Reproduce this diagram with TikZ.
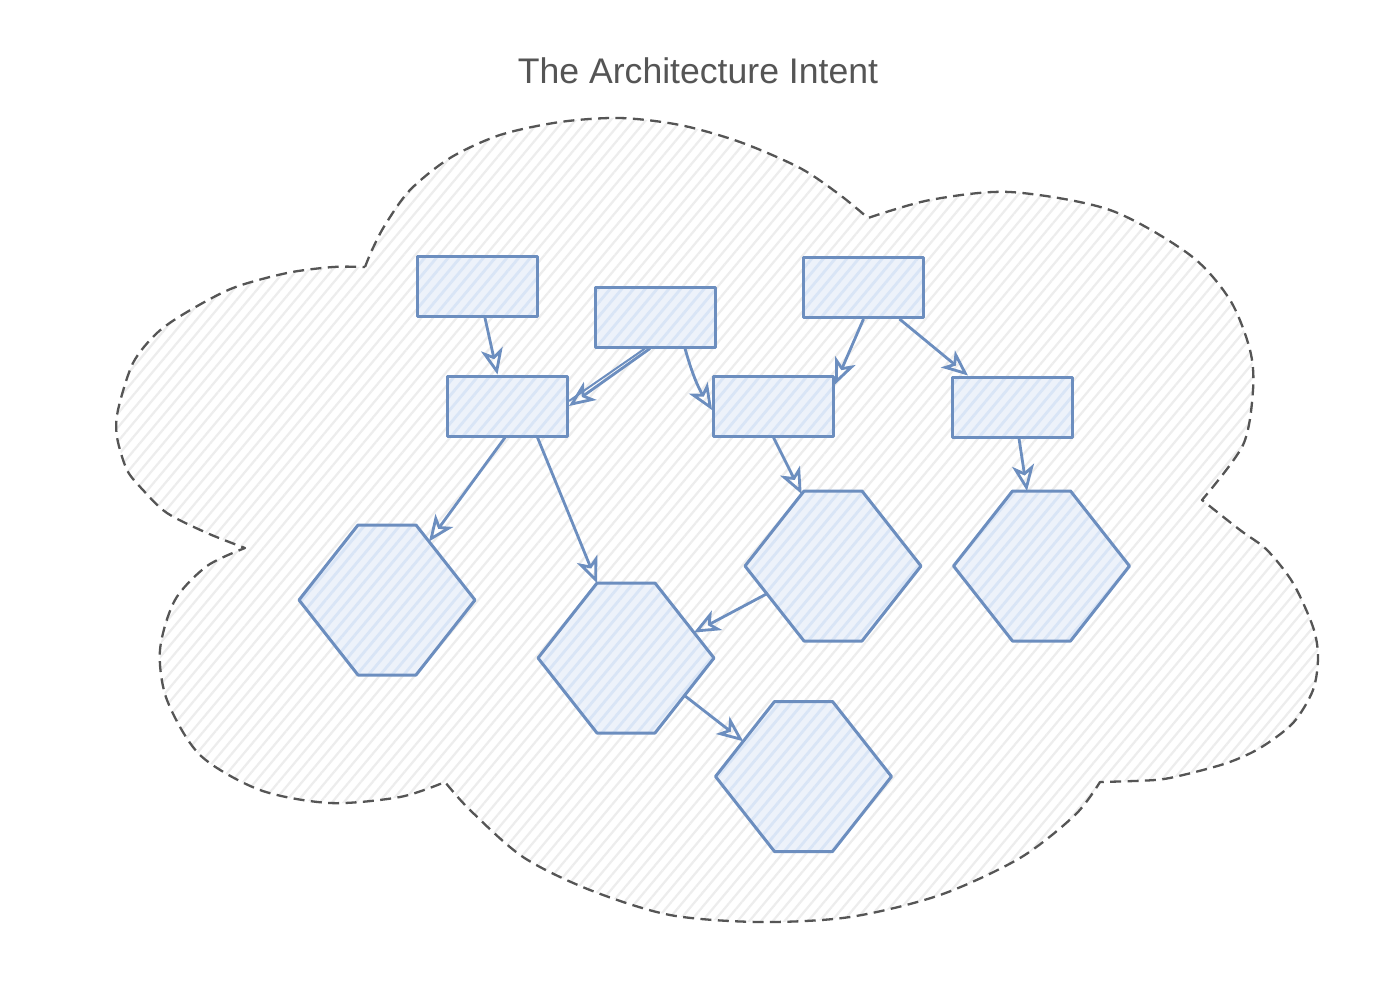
\documentclass[tikz,border=0pt]{standalone}
\usepackage{fontspec}
\setmainfont{Liberation Sans}
\usetikzlibrary{arrows.meta,patterns.meta,calc}
\definecolor{cloudline}{HTML}{555555}
\definecolor{blueline}{HTML}{6C8EBF}
\definecolor{bluefill}{HTML}{EDF2FA}
\definecolor{bluehatch}{HTML}{D9E5F6}
\definecolor{hatchgray}{HTML}{EDEDED}
\definecolor{titlegray}{HTML}{555555}
\newcommand\hexa[3]{%
  \coordinate (#1-l) at ({#2-88},#3);
  \coordinate (#1-tl) at ({#2-29},{#3-75});
  \coordinate (#1-tr) at ({#2+29},{#3-75});
  \coordinate (#1-r) at ({#2+88},#3);
  \coordinate (#1-br) at ({#2+29},{#3+75});
  \coordinate (#1-bl) at ({#2-29},{#3+75});
  \coordinate (#1) at (#2,#3);
  \path[shapefill] (#1-l) -- (#1-tl) -- (#1-tr) -- (#1-r) -- (#1-br) -- (#1-bl) -- cycle;
}
\begin{document}
\begin{tikzpicture}[x=0.5pt,y=-0.5pt,
  shapefill/.style={preaction={fill=bluefill},
    pattern={Lines[angle=50,distance=4.5pt,line width=1.4pt]}, pattern color=bluehatch,
    draw=blueline, line width=1.5pt, line join=round},
  box/.style={shapefill, shape=rectangle, minimum width=60pt, minimum height=30pt, inner sep=0pt},
  conn/.style={draw=blueline, line width=1.4pt, -{Stealth[open,length=13pt,width=11pt,inset=3.5pt,line width=1.4pt]}},
  cloud/.style={draw=cloudline, line width=1.15pt, dash pattern=on 5.5pt off 3.2pt, line join=round,
    pattern={Lines[angle=50,distance=4.5pt,line width=1.1pt]}, pattern color=hatchgray}
]
\useasboundingbox (0,0) rectangle (1400,1002);
\fill[white] (0,0) rectangle (1400,1002);

% cloud
\path[cloud] (365,267)
 -- plot[smooth] coordinates {(365,267) (372,250) (385,225) (410,190) (450,158) (500,135) (560,122) (620,118) (680,125) (740,142) (800,168) (840,195) (868,218)}
 -- plot[smooth] coordinates {(868,218) (930,200) (1010,192) (1110,210) (1190,255) (1230,300) (1250,350) (1253,390) (1243,445) (1202,500)}
 -- plot[smooth] coordinates {(1202,500) (1240,530) (1267,550) (1293,583) (1313,627) (1318,657) (1313,690) (1293,723) (1260,748) (1227,763) (1183,775) (1155,780) (1100,782)}
 -- plot[smooth] coordinates {(1100,782) (1075,815) (1020,858) (940,895) (850,917) (760,922) (670,915) (590,890) (523,857) (470,810) (445,782)}
 -- plot[smooth] coordinates {(445,782) (400,797) (330,803) (260,790) (200,755) (167,700) (160,650) (175,600) (207,566) (245,548)}
 -- plot[smooth] coordinates {(245,548) (207,533) (167,513) (143,490) (127,470) (117,437) (118,410) (133,363) (157,333) (187,312) (233,288) (287,273) (333,267) (365,267)}
 -- cycle;

% title
\node[text=titlegray, font=\fontsize{17.8}{21}\selectfont] (title) at (698,71) {The Architecture Intent};

% boxes
\node[box] (r1) at (477.5,286.5) {};
\node[box] (r2) at (655,317) {};
\node[box] (r3) at (863.5,287.5) {};
\node[box] (r4) at (507.5,406) {};
\node[box] (r5) at (773.5,406) {};
\node[box] (r6) at (1012,407) {};

% hexagons
\hexa{h1}{387}{600}
\hexa{h2}{626}{658}
\hexa{h3}{833}{566}
\hexa{h4}{1041.5}{566}
\hexa{h5}{803.5}{776.5}

% connectors
\draw[conn] ([xshift=3.75pt]r1.south) -- ([xshift=-5pt]r4.north);
\draw[conn] ([xshift=-2.5pt]r2.south) -- (r4.east);
\draw[blueline, line width=1pt] ([xshift=-5pt]r2.south) -- ([yshift=2.5pt]r4.east);
\draw[conn] ([xshift=15pt]r2.south) to[bend right=8] ([yshift=-2pt]r5.west);
\draw[conn] (r3.south) -- ([yshift=-5pt]r5.north east);
\draw[conn] ([xshift=18pt]r3.south) -- ([xshift=-22pt]r6.north);
\draw[conn] ([xshift=-1.25pt]r4.south) -- ($(h1-tr)!0.22!(h1-r)$);
\draw[conn] ([xshift=15pt]r4.south) -- (h2-tl);
\draw[conn] (r5.south) -- ($(h3-l)!0.96!(h3-tl)$);
\draw[conn] ([xshift=3.5pt]r6.south) -- ($(h4-tl)!0.25!(h4-tr)$);
\draw[conn] ($(h3-l)!0.37!(h3-bl)$) -- ($(h2-tr)!0.66!(h2-r)$);
\draw[conn] ($(h2-r)!0.5!(h2-br)$) -- ($(h5-l)!0.47!(h5-tl)$);
\end{tikzpicture}
\end{document}
